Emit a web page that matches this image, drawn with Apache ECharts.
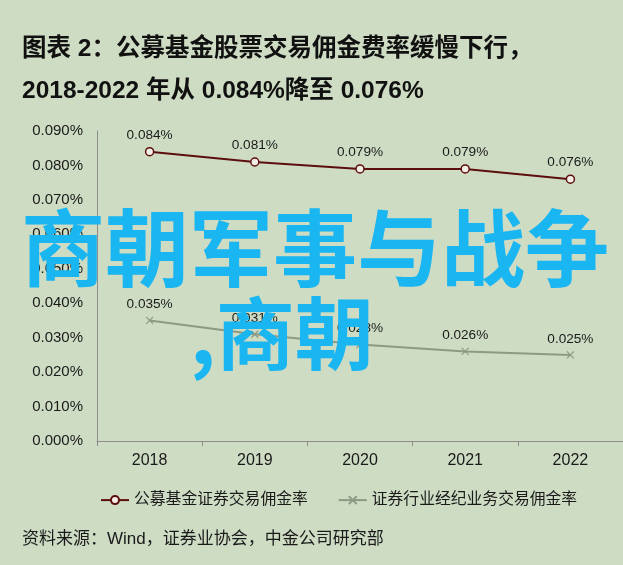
<!DOCTYPE html>
<html><head><meta charset="utf-8">
<script src="https://cdn.jsdelivr.net/npm/echarts@6/dist/echarts.min.js"></script>
<style>html,body{margin:0;padding:0;background:#cedcc4;}#c{width:623px;height:565px;}</style>
</head><body><div id="c"></div>
<script>
var categories = ['2018','2019','2020','2021','2022'];
var fundRate = [0.084, 0.081, 0.079, 0.079, 0.076];
var brokerRate = [0.035, 0.031, 0.028, 0.026, 0.025];
var seriesNames = ['公募基金证券交易佣金率','证券行业经纪业务交易佣金率'];
var titleLines = ['图表 2：公募基金股票交易佣金费率缓慢下行，','2018-2022 年从 0.084%降至 0.076%'];
var sourceText = '资料来源：Wind，证券业协会，中金公司研究部';
var watermark = ['商朝军事与战争', ',商朝'];

var FONT = '"Liberation Sans", "Noto Sans CJK SC", sans-serif';
var chart = echarts.init(document.getElementById('c'));
var crossPath = 'path://M0,0 L10,10 M10,0 L0,10';
chart.setOption({
  backgroundColor: '#cedcc4',
  textStyle: {fontFamily: FONT},
  grid: {left: 97, width: 531, top: 131, bottom: 124},
  legend: {
    bottom: 52, left: 95, itemGap: 30, itemWidth: 28, itemHeight: 10,
    textStyle: {fontSize: 15.8, color: '#1a1a1a', fontFamily: FONT},
    data: seriesNames
  },
  xAxis: {
    type: 'category', data: categories, boundaryGap: true,
    axisLine: {lineStyle: {color: '#8c8c8c'}},
    axisTick: {show: true, interval: 0, length: 5, lineStyle: {color: '#8c8c8c'}},
    axisLabel: {fontSize: 16, color: '#1a1a1a', margin: 12}
  },
  yAxis: {
    type: 'value', min: 0, max: 0.09, interval: 0.01,
    axisLine: {show: true, lineStyle: {color: '#8c8c8c'}},
    axisTick: {show: false},
    splitLine: {show: false},
    axisLabel: {fontSize: 15, color: '#1a1a1a', margin: 14, formatter: function(v){return v.toFixed(3)+'%';}}
  },
  series: [
    {
      name: seriesNames[0], type: 'line', data: fundRate,
      symbol: 'circle', symbolSize: 8,
      lineStyle: {color: '#5c0d0d', width: 2},
      itemStyle: {color: '#f4efe6', borderColor: '#5c0d0d', borderWidth: 1.5},
      label: {show: true, position: 'top', distance: 5, fontSize: 13.6, color: '#1a1a1a',
        formatter: function(p){return p.value.toFixed(3)+'%';}}
    },
    {
      name: seriesNames[1], type: 'line', data: brokerRate,
      symbol: crossPath, symbolSize: 7,
      lineStyle: {color: '#8c9a85', width: 2},
      itemStyle: {color: '#8c9a85', borderColor: '#8c9a85', borderWidth: 1.2},
      label: {show: true, position: 'top', distance: 5, fontSize: 13.6, color: '#1a1a1a',
        formatter: function(p){return p.value.toFixed(3)+'%';}}
    }
  ],
  graphic: [
    {type: 'text', left: 22, top: 37, style: {text: titleLines[0], font: 'bold 24.5px ' + FONT, fill: '#111'}},
    {type: 'text', left: 22, top: 79, style: {text: titleLines[1], font: 'bold 24.5px ' + FONT, fill: '#111'}},
    {type: 'text', left: 22, top: 531, style: {text: sourceText, font: '17px ' + FONT, fill: '#1a1a1a'}},
    {type: 'text', left: 21, top: 206, z: 100, style: {text: watermark[0], font: 'bold 84px "Noto Sans CJK SC"', fill: '#1ab6f2'}},
    {type: 'text', left: 190, top: 294, z: 100, style: {text: watermark[1], font: 'bold 79px "Noto Sans CJK SC"', fill: '#1ab6f2'}}
  ]
});
</script></body></html>
